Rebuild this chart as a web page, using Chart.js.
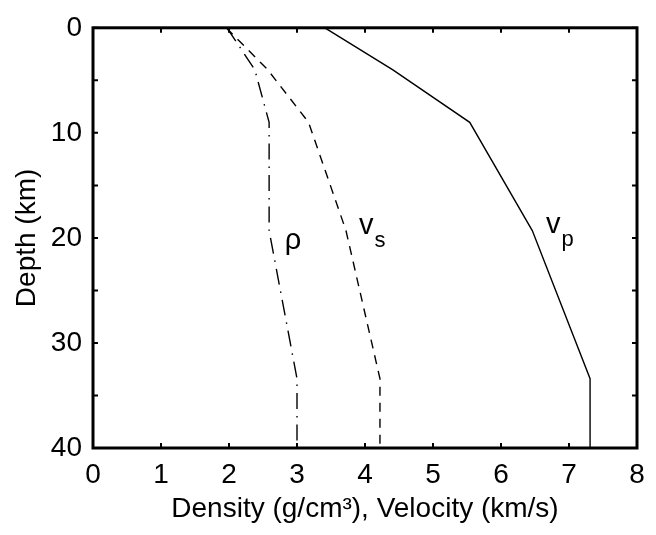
<!DOCTYPE html>
<html>
<head>
<meta charset="utf-8">
<script src="https://cdn.jsdelivr.net/npm/chart.js@4.4.1/dist/chart.umd.min.js"></script>
<style>
  html, body { margin: 0; padding: 0; background: #fff; }
  #wrap { width: 656px; height: 535px; position: relative; }
</style>
</head>
<body>
<div id="wrap"><canvas id="c" width="656" height="535"></canvas></div>
<script>
// ---- data ----
const depthKm = [0, 4, 9, 19.3, 33.4, 40];
const vp      = [3.41, 4.41, 5.54, 6.46, 7.31, 7.31];
const vs      = [1.96, 2.57, 3.17, 3.72, 4.22, 4.22];
const rho     = [1.97, 2.38, 2.59, 2.59, 3.0, 3.0];
const xTicks  = [0, 1, 2, 3, 4, 5, 6, 7, 8];
const yTicks  = [0, 10, 20, 30, 40];
const curveLabels = [
  { text: 'ρ', sub: '',  x: 2.82, y: 20.3 },
  { text: 'v', sub: 's', x: 3.91, y: 18.9 },
  { text: 'v', sub: 'p', x: 6.66, y: 18.8 }
];

const FONT = '"Liberation Sans", Arial, Helvetica, sans-serif';
const pts = (xs) => xs.map((v, i) => ({ x: v, y: depthKm[i] }));

const framePlugin = {
  id: 'frame',
  afterDraw(chart) {
    const { ctx, chartArea: a, scales: { x, y } } = chart;
    ctx.save();
    ctx.strokeStyle = '#000';
    // inward ticks
    ctx.lineWidth = 2;
    const tl = 5;
    for (let v = 0; v <= 8; v += 1) {
      const px = x.getPixelForValue(v);
      ctx.beginPath();
      ctx.moveTo(px, a.bottom); ctx.lineTo(px, a.bottom - tl);
      ctx.moveTo(px, a.top); ctx.lineTo(px, a.top + tl);
      ctx.stroke();
    }
    for (let v = 0; v <= 40; v += 5) {
      const py = y.getPixelForValue(v);
      ctx.beginPath();
      ctx.moveTo(a.left, py); ctx.lineTo(a.left + tl, py);
      ctx.moveTo(a.right, py); ctx.lineTo(a.right - tl, py);
      ctx.stroke();
    }
    // frame
    ctx.lineWidth = 3;
    ctx.strokeRect(a.left, a.top, a.right - a.left, a.bottom - a.top);
    // curve labels
    ctx.fillStyle = '#000';
    ctx.textBaseline = 'alphabetic';
    ctx.textAlign = 'left';
    curveLabels.forEach(l => {
      const px = x.getPixelForValue(l.x);
      const py = y.getPixelForValue(l.y);
      ctx.font = '29px ' + FONT;
      ctx.fillText(l.text, px, py + 8);
      if (l.sub) {
        const w = ctx.measureText(l.text).width;
        ctx.font = '22px ' + FONT;
        ctx.fillText(l.sub, px + w + 1, py + 21);
      }
    });
    ctx.restore();
  }
};

new Chart(document.getElementById('c'), {
  type: 'scatter',
  data: {
    datasets: [
      { label: 'vp', data: pts(vp), showLine: true, borderColor: '#000', borderWidth: 1.4, pointRadius: 0, fill: false },
      { label: 'vs', data: pts(vs), showLine: true, borderColor: '#000', borderWidth: 1.4, borderDash: [9, 7], pointRadius: 0, fill: false },
      { label: 'rho', data: pts(rho), showLine: true, borderColor: '#000', borderWidth: 1.4, borderDash: [16, 7, 1.5, 7], pointRadius: 0, fill: false }
    ]
  },
  options: {
    responsive: false,
    animation: false,
    layout: { padding: { left: 0, top: 18, right: 19, bottom: 0 } },
    plugins: { legend: { display: false }, tooltip: { enabled: false } },
    scales: {
      x: {
        type: 'linear', min: 0, max: 8,
        afterBuildTicks: (s) => { s.ticks = xTicks.map(v => ({ value: v })); },
        afterFit: (s) => { s.height = 87; },
        grid: { display: false, drawTicks: false },
        border: { display: false },
        ticks: { color: '#000', font: { family: FONT, size: 28 }, padding: 10, maxRotation: 0 },
        title: { display: true, text: 'Density (g/cm³), Velocity (km/s)', color: '#000',
                 font: { family: FONT, size: 28 }, padding: { top: 0, bottom: 9 } }
      },
      y: {
        type: 'linear', min: 0, max: 40, reverse: true,
        afterBuildTicks: (s) => { s.ticks = yTicks.map(v => ({ value: v })); },
        afterFit: (s) => { s.width = 93; },
        grid: { display: false, drawTicks: false },
        border: { display: false },
        ticks: { color: '#000', font: { family: FONT, size: 28 }, padding: 11 },
        title: { display: true, text: 'Depth (km)', color: '#000',
                 font: { family: FONT, size: 28 }, padding: { top: 10, bottom: 0 } }
      }
    }
  },
  plugins: [framePlugin]
});
</script>
</body>
</html>
